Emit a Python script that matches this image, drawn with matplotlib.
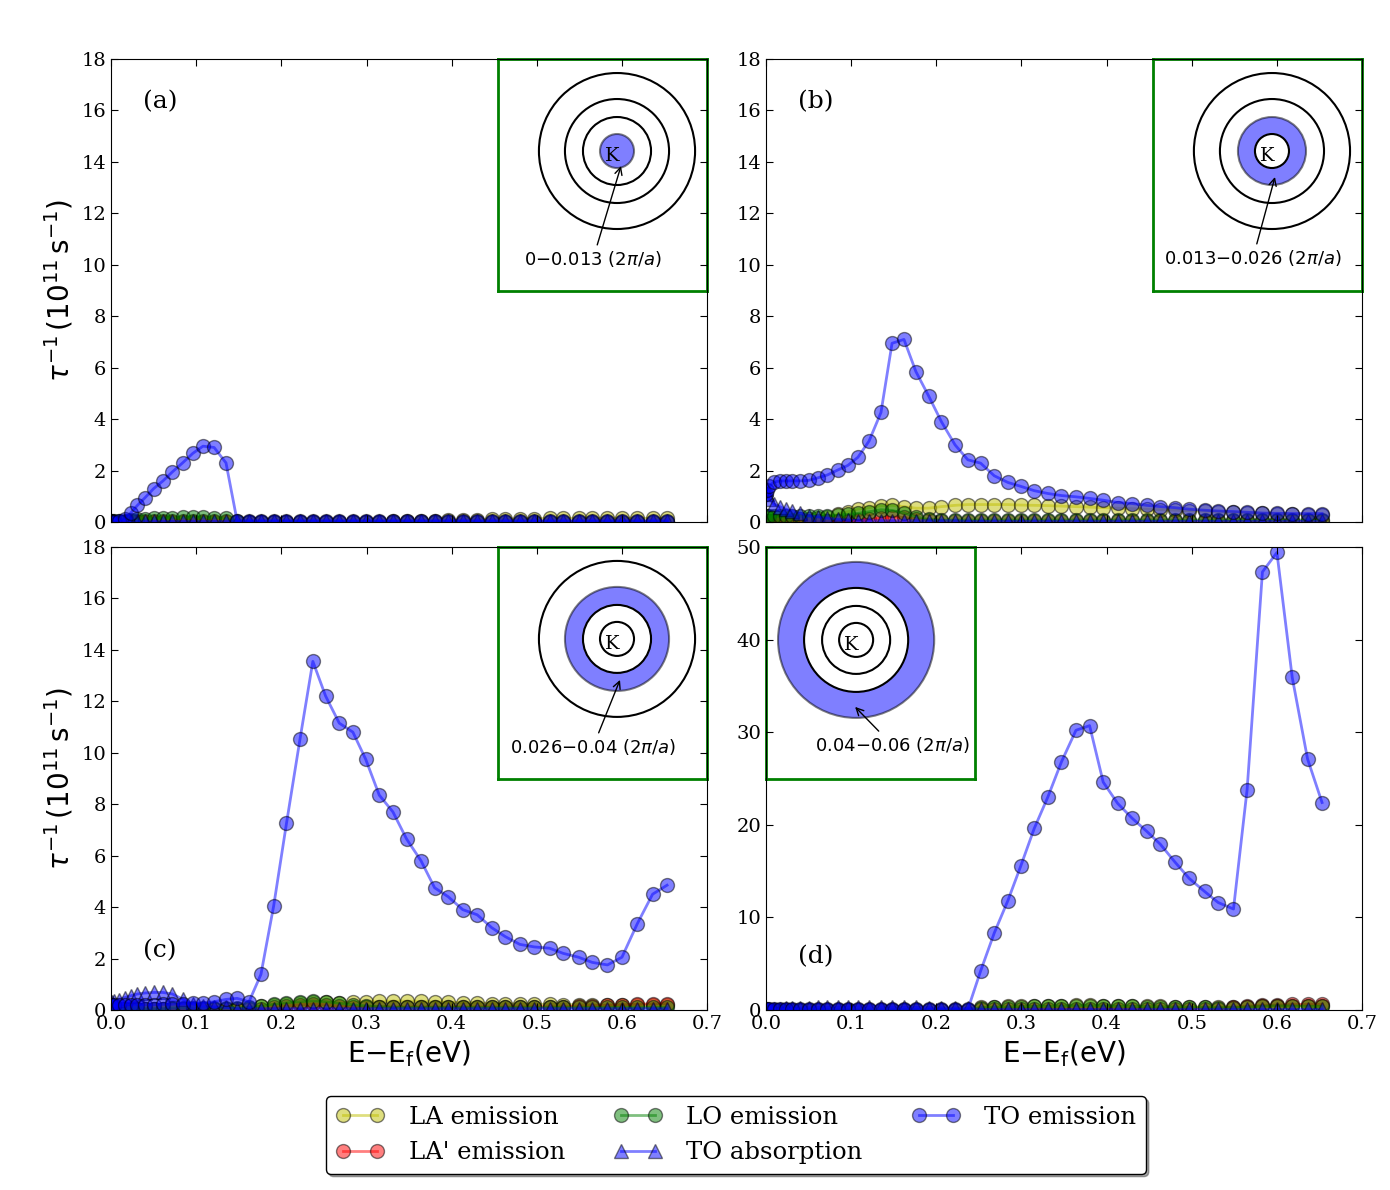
"""
Scattering rates vs energy for four k-shells around K, with small ring insets.
"""
import matplotlib
matplotlib.use('Agg')
from matplotlib import pyplot as plt
from matplotlib.patches import Circle

plt.rcParams['font.family'] = ['DejaVu Serif', 'DejaVu Sans']
plt.rcParams['mathtext.fontset'] = 'dejavusans'
plt.rcParams['axes.axisbelow'] = False
plt.rcParams['xtick.direction'] = 'in'
plt.rcParams['ytick.direction'] = 'in'
plt.rcParams['xtick.top'] = True
plt.rcParams['ytick.right'] = True

# energy grid E - Ef (eV)
energy = [0.000, 0.001, 0.004, 0.009, 0.016, 0.023, 0.031, 0.040, 0.050, 0.061,
          0.072, 0.084, 0.096, 0.108, 0.121, 0.135, 0.148, 0.162, 0.176, 0.191,
          0.206, 0.222, 0.237, 0.252, 0.268, 0.284, 0.299, 0.315, 0.331, 0.347,
          0.364, 0.380, 0.396, 0.413, 0.430, 0.447, 0.463, 0.480, 0.497, 0.515,
          0.531, 0.549, 0.565, 0.583, 0.600, 0.618, 0.636, 0.653]

# panel (a): 0-0.013
a_la = [0.02, 0.02, 0.02, 0.02, 0.02, 0.02, 0.02, 0.02, 0.02, 0.02,
        0.02, 0.02, 0.02, 0.02, 0.02, 0.02, 0.02, 0.02, 0.02, 0.02,
        0.02, 0.02, 0.02, 0.02, 0.02, 0.02, 0.02, 0.02, 0.03, 0.04,
        0.05, 0.06, 0.07, 0.08, 0.09, 0.10, 0.11, 0.12, 0.13, 0.14,
        0.14, 0.15, 0.15, 0.15, 0.15, 0.15, 0.14, 0.14]
a_lap = [0.02, 0.02, 0.02, 0.02, 0.02, 0.03, 0.03, 0.04, 0.04, 0.05,
         0.05, 0.05, 0.05, 0.05, 0.05, 0.04, 0.02, 0.02, 0.02, 0.02,
         0.02, 0.02, 0.02, 0.02, 0.02, 0.02, 0.02, 0.02, 0.02, 0.02,
         0.02, 0.02, 0.02, 0.02, 0.02, 0.02, 0.02, 0.02, 0.02, 0.02,
         0.02, 0.02, 0.02, 0.02, 0.02, 0.02, 0.02, 0.02]
a_lo = [0.03, 0.03, 0.03, 0.03, 0.05, 0.08, 0.10, 0.12, 0.14, 0.16,
        0.17, 0.18, 0.20, 0.18, 0.17, 0.15, 0.05, 0.02, 0.02, 0.02,
        0.02, 0.02, 0.02, 0.02, 0.02, 0.02, 0.02, 0.02, 0.02, 0.02,
        0.02, 0.02, 0.02, 0.02, 0.02, 0.02, 0.02, 0.02, 0.02, 0.02,
        0.02, 0.02, 0.02, 0.02, 0.02, 0.02, 0.02, 0.02]
a_toabs = [0.03, 0.03, 0.03, 0.03, 0.03, 0.03, 0.03, 0.03, 0.03, 0.03,
           0.03, 0.03, 0.03, 0.03, 0.03, 0.03, 0.03, 0.03, 0.03, 0.03,
           0.03, 0.03, 0.03, 0.03, 0.03, 0.03, 0.03, 0.03, 0.03, 0.03,
           0.03, 0.03, 0.03, 0.03, 0.03, 0.03, 0.03, 0.03, 0.03, 0.03,
           0.03, 0.03, 0.03, 0.03, 0.03, 0.03, 0.03, 0.03]
a_toem = [0.00, 0.00, 0.02, 0.05, 0.12, 0.35, 0.65, 0.95, 1.30, 1.60,
          1.95, 2.30, 2.67, 2.95, 2.90, 2.30, 0.05, 0.05, 0.05, 0.05,
          0.05, 0.05, 0.05, 0.05, 0.05, 0.05, 0.05, 0.05, 0.05, 0.05,
          0.05, 0.05, 0.05, 0.05, 0.05, 0.05, 0.05, 0.05, 0.05, 0.05,
          0.05, 0.05, 0.05, 0.05, 0.05, 0.05, 0.05, 0.05]

# panel (b): 0.013-0.026
b_la = [0.02, 0.02, 0.03, 0.04, 0.05, 0.06, 0.08, 0.10, 0.12, 0.15,
        0.20, 0.30, 0.40, 0.50, 0.56, 0.63, 0.65, 0.60, 0.54, 0.54,
        0.60, 0.65, 0.68, 0.68, 0.68, 0.68, 0.66, 0.65, 0.64, 0.62,
        0.60, 0.58, 0.56, 0.54, 0.52, 0.50, 0.48, 0.46, 0.44, 0.42,
        0.40, 0.38, 0.36, 0.34, 0.32, 0.30, 0.28, 0.26]
b_lap = [0.03, 0.03, 0.03, 0.03, 0.03, 0.03, 0.03, 0.03, 0.03, 0.03,
         0.03, 0.04, 0.05, 0.07, 0.10, 0.15, 0.20, 0.18, 0.12, 0.08,
         0.05, 0.03, 0.03, 0.03, 0.03, 0.03, 0.03, 0.03, 0.03, 0.03,
         0.03, 0.03, 0.03, 0.03, 0.03, 0.03, 0.03, 0.03, 0.03, 0.03,
         0.03, 0.03, 0.03, 0.03, 0.03, 0.03, 0.03, 0.03]
b_lo = [0.22, 0.22, 0.22, 0.22, 0.22, 0.22, 0.22, 0.22, 0.22, 0.22,
        0.24, 0.26, 0.30, 0.34, 0.40, 0.48, 0.45, 0.35, 0.20, 0.10,
        0.08, 0.08, 0.08, 0.08, 0.08, 0.08, 0.08, 0.08, 0.08, 0.08,
        0.08, 0.08, 0.08, 0.08, 0.08, 0.08, 0.08, 0.08, 0.08, 0.08,
        0.08, 0.08, 0.08, 0.08, 0.08, 0.08, 0.08, 0.08]
b_toabs = [1.30, 1.10, 0.90, 0.70, 0.60, 0.50, 0.42, 0.35, 0.25, 0.20,
           0.15, 0.10, 0.08, 0.06, 0.05, 0.05, 0.05, 0.05, 0.05, 0.05,
           0.05, 0.05, 0.03, 0.03, 0.03, 0.03, 0.03, 0.03, 0.03, 0.03,
           0.03, 0.03, 0.03, 0.03, 0.03, 0.03, 0.03, 0.03, 0.03, 0.03,
           0.03, 0.03, 0.03, 0.03, 0.03, 0.03, 0.03, 0.03]
b_toem = [1.10, 1.25, 1.40, 1.55, 1.60, 1.60, 1.60, 1.60, 1.62, 1.72,
          1.83, 2.02, 2.20, 2.52, 3.15, 4.26, 6.95, 7.10, 5.85, 4.90,
          3.90, 3.00, 2.42, 2.29, 1.80, 1.54, 1.39, 1.22, 1.11, 1.03,
          0.98, 0.92, 0.85, 0.76, 0.72, 0.65, 0.60, 0.56, 0.50, 0.46,
          0.43, 0.41, 0.38, 0.35, 0.34, 0.33, 0.33, 0.33]

# panel (c): 0.026-0.04
c_la = [0.05, 0.05, 0.05, 0.05, 0.05, 0.05, 0.05, 0.05, 0.05, 0.05,
        0.05, 0.05, 0.05, 0.05, 0.05, 0.05, 0.05, 0.08, 0.15, 0.20,
        0.24, 0.27, 0.30, 0.30, 0.28, 0.30, 0.32, 0.33, 0.34, 0.34,
        0.33, 0.32, 0.30, 0.28, 0.27, 0.25, 0.24, 0.23, 0.22, 0.22,
        0.21, 0.21, 0.20, 0.20, 0.20, 0.20, 0.20, 0.20]
c_lap = [0.03, 0.03, 0.03, 0.03, 0.03, 0.03, 0.03, 0.03, 0.03, 0.03,
         0.03, 0.03, 0.03, 0.03, 0.03, 0.03, 0.03, 0.03, 0.03, 0.10,
         0.15, 0.20, 0.22, 0.20, 0.15, 0.12, 0.12, 0.12, 0.12, 0.12,
         0.12, 0.12, 0.12, 0.12, 0.13, 0.13, 0.13, 0.13, 0.13, 0.13,
         0.13, 0.15, 0.17, 0.18, 0.20, 0.22, 0.24, 0.25]
c_lo = [0.05, 0.05, 0.05, 0.05, 0.05, 0.05, 0.05, 0.05, 0.05, 0.05,
        0.08, 0.08, 0.08, 0.08, 0.08, 0.08, 0.08, 0.10, 0.15, 0.22,
        0.28, 0.32, 0.35, 0.32, 0.26, 0.20, 0.16, 0.13, 0.10, 0.10,
        0.10, 0.10, 0.10, 0.10, 0.10, 0.10, 0.10, 0.10, 0.10, 0.10,
        0.10, 0.10, 0.10, 0.10, 0.10, 0.10, 0.10, 0.10]
c_toabs = [0.25, 0.30, 0.35, 0.40, 0.48, 0.55, 0.62, 0.66, 0.68, 0.68,
           0.62, 0.42, 0.22, 0.15, 0.12, 0.10, 0.05, 0.05, 0.05, 0.05,
           0.05, 0.05, 0.05, 0.05, 0.05, 0.05, 0.05, 0.05, 0.05, 0.05,
           0.05, 0.05, 0.05, 0.05, 0.05, 0.05, 0.05, 0.05, 0.05, 0.05,
           0.05, 0.05, 0.05, 0.05, 0.05, 0.05, 0.05, 0.05]
c_toem = [0.20, 0.20, 0.20, 0.20, 0.20, 0.20, 0.20, 0.20, 0.20, 0.22,
          0.22, 0.24, 0.26, 0.26, 0.32, 0.41, 0.45, 0.32, 1.38, 4.05,
          7.25, 10.55, 13.55, 12.20, 11.15, 10.80, 9.75, 8.35, 7.70, 6.65,
          5.80, 4.75, 4.40, 3.90, 3.70, 3.20, 2.85, 2.55, 2.45, 2.40,
          2.20, 2.05, 1.85, 1.75, 2.05, 3.35, 4.50, 4.85]

# panel (d): 0.04-0.06
d_la = [0.02, 0.02, 0.02, 0.02, 0.02, 0.02, 0.02, 0.02, 0.02, 0.02,
        0.02, 0.02, 0.02, 0.02, 0.02, 0.02, 0.02, 0.02, 0.02, 0.02,
        0.02, 0.02, 0.02, 0.30, 0.35, 0.38, 0.40, 0.42, 0.45, 0.48,
        0.50, 0.50, 0.48, 0.45, 0.42, 0.40, 0.38, 0.36, 0.35, 0.34,
        0.33, 0.33, 0.35, 0.40, 0.45, 0.45, 0.45, 0.45]
d_lap = [0.02, 0.02, 0.02, 0.02, 0.02, 0.02, 0.02, 0.02, 0.02, 0.02,
         0.02, 0.02, 0.02, 0.02, 0.02, 0.02, 0.02, 0.02, 0.02, 0.02,
         0.02, 0.02, 0.02, 0.10, 0.12, 0.14, 0.15, 0.15, 0.15, 0.15,
         0.15, 0.15, 0.15, 0.15, 0.15, 0.15, 0.15, 0.15, 0.15, 0.15,
         0.15, 0.30, 0.40, 0.50, 0.55, 0.60, 0.60, 0.60]
d_lo = [0.02, 0.02, 0.02, 0.02, 0.02, 0.02, 0.02, 0.02, 0.02, 0.02,
        0.02, 0.02, 0.02, 0.02, 0.02, 0.02, 0.02, 0.02, 0.02, 0.02,
        0.02, 0.02, 0.02, 0.25, 0.30, 0.32, 0.35, 0.38, 0.40, 0.42,
        0.45, 0.45, 0.43, 0.40, 0.38, 0.35, 0.33, 0.30, 0.28, 0.27,
        0.26, 0.26, 0.30, 0.40, 0.45, 0.42, 0.40, 0.38]
d_toabs = [0.10, 0.10, 0.10, 0.12, 0.15, 0.18, 0.20, 0.22, 0.25, 0.28,
           0.30, 0.32, 0.35, 0.36, 0.36, 0.35, 0.33, 0.30, 0.28, 0.25,
           0.22, 0.20, 0.18, 0.05, 0.05, 0.05, 0.05, 0.05, 0.05, 0.05,
           0.05, 0.05, 0.05, 0.05, 0.05, 0.05, 0.05, 0.05, 0.05, 0.05,
           0.05, 0.05, 0.05, 0.05, 0.05, 0.05, 0.05, 0.05]
d_toem = [0.05, 0.05, 0.05, 0.05, 0.05, 0.05, 0.05, 0.05, 0.05, 0.05,
          0.05, 0.05, 0.05, 0.05, 0.05, 0.05, 0.05, 0.05, 0.05, 0.05,
          0.05, 0.05, 0.05, 4.20, 8.30, 11.80, 15.50, 19.60, 23.00, 26.80,
          30.20, 30.70, 24.60, 22.30, 20.70, 19.30, 17.90, 16.00, 14.20, 12.80,
          11.60, 10.90, 23.80, 47.30, 49.40, 35.90, 27.10, 22.40]

series_labels = ['LA emission', "LA' emission", 'LO emission', 'TO absorption', 'TO emission']
series_colors = ['y', 'r', 'g', 'b', 'b']
series_markers = ['o', 'o', 'o', '^', 'o']

panel_tags = ['(a)', '(b)', '(c)', '(d)']
panel_data = [
    [a_la, a_lap, a_lo, a_toabs, a_toem],
    [b_la, b_lap, b_lo, b_toabs, b_toem],
    [c_la, c_lap, c_lo, c_toabs, c_toem],
    [d_la, d_lap, d_lo, d_toabs, d_toem],
]
panel_ymax = [18, 18, 18, 50]
shell_text = ['0\u22120.013 (2$\\pi/a$)', '0.013\u22120.026 (2$\\pi/a$)',
              '0.026\u22120.04 (2$\\pi/a$)', '0.04\u22120.06 (2$\\pi/a$)']

# ring inset drawing (inset units ~ pixels)
ring_radii = [17, 34, 52, 78]


def draw_inset(ax, idx):
    if idx == 3:
        bounds = [0.0, 0.499, 0.351, 0.501]
        center = (90, 139)
        target, txt_pos = (89, 72), (126, 34)
    else:
        bounds = [0.649, 0.499, 0.351, 0.501]
        center = (119, 140)
        target = [(123, 125), (122, 114), (122, 99)][idx]
        txt_pos = [(95, 32), (100, 33), (95, 32)][idx]
    ins = ax.inset_axes(bounds)
    ins.set_zorder(2.2)
    ins.set_xlim(0, 209)
    ins.set_ylim(0, 232)
    ins.set_xticks([])
    ins.set_yticks([])
    for sp in ins.spines.values():
        sp.set_color('g')
        sp.set_linewidth(2)

    r_out = ring_radii[idx]
    r_in = ring_radii[idx - 1] if idx > 0 else 0
    ins.add_patch(Circle(center, r_out, fc=(0, 0, 1, 0.5), ec=(0, 0, 0, 0.5), lw=1.5))
    if r_in > 0:
        ins.add_patch(Circle(center, r_in, fc='w', ec='k', lw=1.5))
    for r in ring_radii:
        if r not in (r_in, r_out):
            ins.add_patch(Circle(center, r, fill=False, ec='k', lw=1.5))
    ins.text(center[0] - 5, center[1] - 5, 'K', ha='center', va='center', fontsize=14)
    ins.annotate(shell_text[idx], xy=target, xytext=txt_pos, ha='center', va='center',
                 fontsize=13, family='DejaVu Sans',
                 arrowprops=dict(arrowstyle='->', color='k', lw=1, shrinkA=1, shrinkB=0))


fig = plt.figure(figsize=(13.9, 11.9), dpi=100)
lefts = [0.0799, 0.5511, 0.0799, 0.5511]
bottoms = [0.5613, 0.5613, 0.1513, 0.1513]
handles = []
for i in range(4):
    ax = fig.add_axes([lefts[i], bottoms[i], 0.4288, 0.3891])
    for vals, lab, col, mk in zip(panel_data[i], series_labels, series_colors, series_markers):
        line, = ax.plot(energy, vals, color=col, marker=mk, markersize=10, lw=2,
                        alpha=0.5, mec='k', mew=1, label=lab)
        if i == 0:
            handles.append(line)
    ax.set_xlim(0, 0.7)
    ax.set_ylim(0, panel_ymax[i])
    ax.set_xticks([0.0, 0.1, 0.2, 0.3, 0.4, 0.5, 0.6, 0.7])
    ax.tick_params(labelsize=14, length=5)
    if i < 2:
        ax.set_xticklabels([])
    else:
        ax.set_xlabel(r'$\mathrm{E{-}E_f(eV)}$', fontsize=20)
    if i % 2 == 0:
        ax.set_ylabel(r'$\tau^{-1}\,(10^{11}\,\mathrm{s}^{-1})$', fontsize=20)
    tag_y = 0.907 if i < 2 else (0.127 if i == 2 else 0.116)
    ax.text(0.054, tag_y, panel_tags[i], transform=ax.transAxes,
            ha='left', va='center', fontsize=18)
    draw_inset(ax, i)

fig.legend(handles, series_labels, loc='center', bbox_to_anchor=(0.5295, 0.0462),
           ncol=3, fontsize=17.5, numpoints=2, fancybox=True, shadow=True,
           framealpha=1, edgecolor='k', columnspacing=2.0, handletextpad=1.0)

fig.savefig('out.png', dpi=100)
